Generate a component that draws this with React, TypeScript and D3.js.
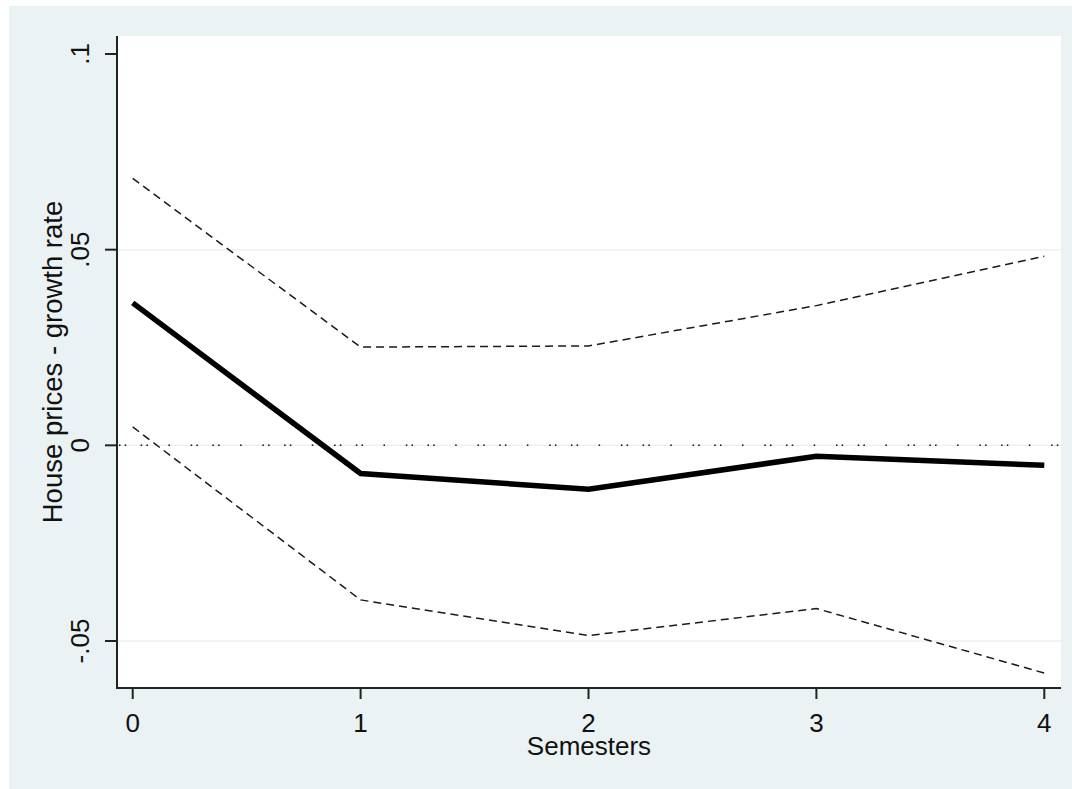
import React from "react";
import * as d3 from "d3";

// semesters after the shock
const semesters = [0, 1, 2, 3, 4];
// point estimate and 95% band
const estimate = [0.0364, -0.0072, -0.0112, -0.0028, -0.0051];
const upperBand = [0.0682, 0.0251, 0.0254, 0.0357, 0.0483];
const lowerBand = [0.0047, -0.0395, -0.0486, -0.0417, -0.0582];

const yTicks = [-0.05, 0, 0.05, 0.1];
const yTickLabels = ["-.05", "0", ".05", ".1"];
const gridTicks = [-0.05, 0, 0.05];
const xTicks = [0, 1, 2, 3, 4];

const App = () => {
  const width = 1072;
  const height = 789;
  const plot = { left: 117, right: 1061, top: 36, bottom: 688 };
  const font = "'Liberation Sans', Arial, sans-serif";

  const x = d3.scaleLinear().domain([0, 4]).range([132.7, 1044.3]);
  const y = d3.scaleLinear().domain([-0.05, 0.1]).range([641, 54]);

  const line = d3
    .line<number>()
    .x((_, i) => x(semesters[i]))
    .y((d) => y(d));

  return (
    <svg
      width={width}
      height={height}
      style={{ position: "absolute", left: 0, top: 0, background: "#ffffff" }}
    >
      {/* graph region */}
      <rect x={9} y={6} width={width - 9} height={height - 6} fill="#EAF2F3" />
      {/* plot region */}
      <rect
        x={plot.left}
        y={plot.top}
        width={plot.right - plot.left}
        height={plot.bottom - plot.top}
        fill="#ffffff"
      />

      {/* grid */}
      {gridTicks.map((t) => (
        <line
          key={t}
          x1={plot.left}
          x2={plot.right}
          y1={y(t)}
          y2={y(t)}
          stroke="#EAF2F3"
          strokeWidth={1.5}
        />
      ))}

      {/* zero reference line */}
      <line
        x1={plot.left}
        x2={plot.right}
        y1={y(0)}
        y2={y(0)}
        stroke="#111"
        strokeWidth={1.5}
        strokeDasharray="1.5 4.2 1.5 14.5 1.5 4.2 1.5 20.5 1.5 20.8"
        strokeDashoffset={-2}
      />

      {/* confidence band */}
      <path
        d={line(upperBand) ?? ""}
        fill="none"
        stroke="#1a1a1a"
        strokeWidth={1.5}
        strokeDasharray="8 5"
      />
      <path
        d={line(lowerBand) ?? ""}
        fill="none"
        stroke="#1a1a1a"
        strokeWidth={1.5}
        strokeDasharray="8 5"
      />

      {/* estimate */}
      <path d={line(estimate) ?? ""} fill="none" stroke="#000" strokeWidth={5.5} />

      {/* y axis */}
      <line
        x1={plot.left}
        x2={plot.left}
        y1={plot.top}
        y2={plot.bottom + 1}
        stroke="#222"
        strokeWidth={2}
      />
      {yTicks.map((t, i) => (
        <g key={t}>
          <line x1={plot.left - 12} x2={plot.left} y1={y(t)} y2={y(t)} stroke="#222" strokeWidth={2} />
          <text
            transform={`translate(89, ${y(t)}) rotate(-90)`}
            textAnchor="middle"
            fontFamily={font}
            fontSize={26}
            fill="#111"
          >
            {yTickLabels[i]}
          </text>
        </g>
      ))}
      <text
        transform={`translate(61.5, ${(plot.top + plot.bottom) / 2}) rotate(-90)`}
        textAnchor="middle"
        fontFamily={font}
        fontSize={27.5}
        fill="#111"
      >
        House prices - growth rate
      </text>

      {/* x axis */}
      <line
        x1={plot.left - 1}
        x2={plot.right}
        y1={plot.bottom}
        y2={plot.bottom}
        stroke="#222"
        strokeWidth={2}
      />
      {xTicks.map((t) => (
        <g key={t}>
          <line x1={x(t)} x2={x(t)} y1={plot.bottom} y2={plot.bottom + 11} stroke="#222" strokeWidth={2} />
          <text
            x={x(t)}
            y={731.5}
            textAnchor="middle"
            fontFamily={font}
            fontSize={26}
            fill="#111"
          >
            {t}
          </text>
        </g>
      ))}
      <text
        x={(plot.left + plot.right) / 2}
        y={754.5}
        textAnchor="middle"
        fontFamily={font}
        fontSize={26}
        fill="#111"
      >
        Semesters
      </text>
    </svg>
  );
};

export default App;
